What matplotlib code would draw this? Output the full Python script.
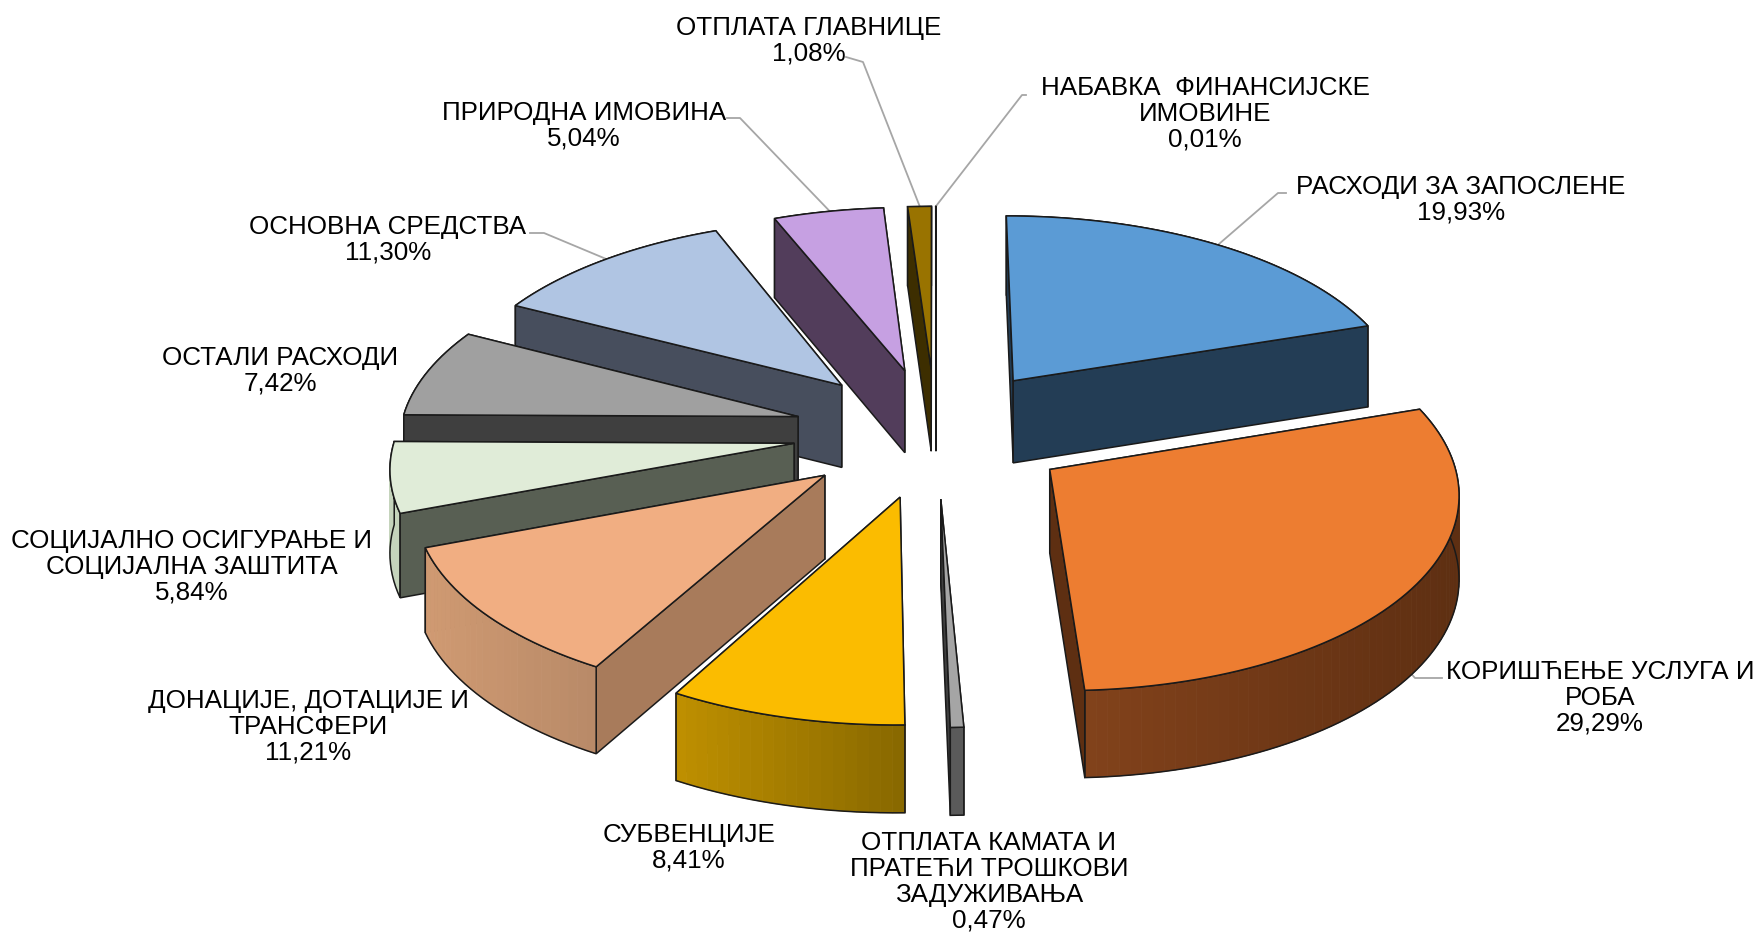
import numpy as np
import matplotlib
matplotlib.use('Agg')
import matplotlib.pyplot as plt
from matplotlib.colors import to_rgb
from matplotlib.patches import Polygon

names = ['РАСХОДИ ЗА ЗАПОСЛЕНЕ', 'КОРИШЋЕЊЕ УСЛУГА И\nРОБА',
         'ОТПЛАТА КАМАТА И\nПРАТЕЋИ ТРОШКОВИ\nЗАДУЖИВАЊА', 'СУБВЕНЦИЈЕ',
         'ДОНАЦИЈЕ, ДОТАЦИЈЕ И\nТРАНСФЕРИ', 'СОЦИЈАЛНО ОСИГУРАЊЕ И\nСОЦИЈАЛНА ЗАШТИТА',
         'ОСТАЛИ РАСХОДИ', 'ОСНОВНА СРЕДСТВА', 'ПРИРОДНА ИМОВИНА',
         'ОТПЛАТА ГЛАВНИЦЕ', 'НАБАВКА  ФИНАНСИЈСКЕ\nИМОВИНЕ']
shares = [19.93, 29.29, 0.47, 8.41, 11.21, 5.84, 7.42, 11.30, 5.04, 1.08, 0.01]

top_colors = ['#5B9BD5', '#ED7D31', '#A5A5A5', '#FBBC00', '#F1AE82', '#E0ECD8',
              '#A0A0A0', '#B0C5E3', '#C6A0E2', '#997300', '#A0A0A0']
side_colors = ['#233D55', '#5E2F12', '#3F3F3F', '#806000', '#A87B5B', '#585F53',
               '#3F3F3F', '#474E5D', '#523D5B', '#3D2E00', '#555555']
arc_left = ['#233D55', '#82421B', '#5A5A5A', '#BF9000', '#D09A72', '#C5D4BC',
            '#3F3F3F', '#474E5D', '#523D5B', '#3D2E00', '#555555']
arc_right = ['#233D55', '#5E2F12', '#5A5A5A', '#886800', '#B88A68', '#C5D4BC',
             '#3F3F3F', '#474E5D', '#523D5B', '#3D2E00', '#555555']

# label centres and leader elbows, pixels of the picture
label_xy = [(1461, 200), (1600, 698), (989, 882), (689, 848), (308, 727), (192, 567),
            (280, 371), (388, 240), (584, 126), (809, 41), (1205, 114)]
leader_start = {0: (1286, 193), 1: (1442, 678), 7: (530, 233), 8: (727, 118), 9: (846, 57), 10: (1026, 95)}
leader_elbow = {0: (1278, 193), 1: (1415, 678), 7: (544, 233), 8: (740, 118), 9: (863, 62), 10: (1022, 95)}

cx, cy = 936, 432
radius = 398
persp = 0.1
squash = 191
depth = 83
explode = 0.34
left_shift = 0.02

def project(u, v, z=0):
    s = 1 / (1 - persp * v)
    return cx + radius * u * s, cy + squash * v * s + depth * z * s ** 0.4

def mix(a, b, t):
    a, b = np.array(to_rgb(a)), np.array(to_rgb(b))
    return tuple(a + (b - a) * t)

fig = plt.figure(figsize=(17.58, 9.32), dpi=100)
ax = fig.add_axes([0, 0, 1, 1])
ax.set_xlim(0, 1758)
ax.set_ylim(932, 0)
ax.axis('off')

edges = np.cumsum([0] + shares) / 100 * 2 * np.pi
mids = (edges[:-1] + edges[1:]) / 2
order = np.argsort(-np.cos(mids))

for i in order:
    a0, a1 = edges[i], edges[i + 1]
    ou, ov = explode * np.sin(mids[i]), -explode * np.cos(mids[i])
    if mids[i] > np.pi:
        ou += left_shift * np.sin(mids[i])
    t = np.linspace(a0, a1, max(int((a1 - a0) * 40), 2))
    us = ou + np.sin(t)
    vs = ov - np.cos(t)

    # walls, farthest first, the top is drawn over them
    walls = [(np.mean([ov, vs[0]]), 'start'), (np.mean([ov, vs[-1]]), 'end'), (vs.mean(), 'arc')]
    for _, kind in sorted(walls):
        if kind == 'arc':
            xt, yt = project(us, vs)
            xb, yb = project(us, vs, 1)
            xmin, xmax = xt.min(), xt.max()
            for j in range(len(t) - 1):
                f = ((xt[j] + xt[j + 1]) / 2 - xmin) / max(xmax - xmin, 1)
                c = mix(arc_left[i], arc_right[i], f)
                ax.add_patch(Polygon([(xt[j], yt[j]), (xt[j + 1], yt[j + 1]), (xb[j + 1], yb[j + 1]), (xb[j], yb[j])],
                                     facecolor=c, edgecolor=c, lw=0.6, zorder=2))
            ax.add_patch(Polygon(np.r_[np.c_[xt, yt], np.c_[xb, yb][::-1]], fill=False,
                                 edgecolor='#1a1a1a', lw=1.1, zorder=2))
        else:
            k = 0 if kind == 'start' else -1
            pts = [project(ou, ov), project(us[k], vs[k]), project(us[k], vs[k], 1), project(ou, ov, 1)]
            ax.add_patch(Polygon(pts, facecolor=side_colors[i], edgecolor='#1a1a1a', lw=1.1, zorder=2))

    xt, yt = project(us, vs)
    ax_top = [project(ou, ov)] + list(zip(xt, yt))
    ax.add_patch(Polygon(ax_top, facecolor=top_colors[i], edgecolor='#1a1a1a', lw=1.1, zorder=2))

for i, name in enumerate(names):
    label = f"{name}\n{shares[i]:.2f}%".replace('.', ',')
    ax.text(label_xy[i][0], label_xy[i][1], label, ha='center', va='center', multialignment='center',
            family='Liberation Sans', fontsize=18.7, linespacing=1.1, color='black', zorder=5)
    if i in leader_elbow:
        m = mids[i]
        ex, ey = project(explode * np.sin(m) + np.sin(m), -explode * np.cos(m) - np.cos(m), 1 if i == 1 else 0)
        ax.plot([leader_start[i][0], leader_elbow[i][0], ex], [leader_start[i][1], leader_elbow[i][1], ey],
                color='#A6A6A6', lw=1.3, zorder=1)

plt.savefig('out.png', dpi=100)
